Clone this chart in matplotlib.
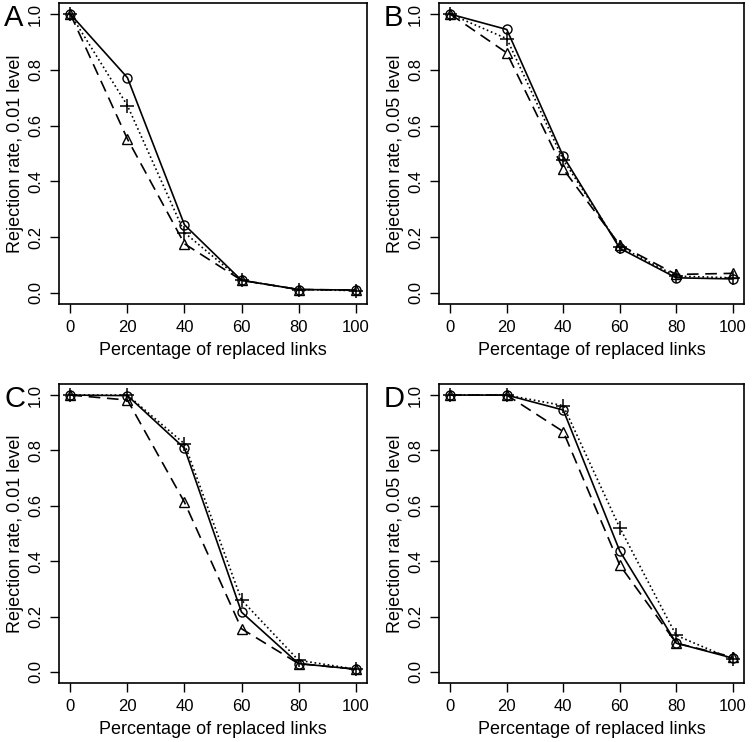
import numpy as np
import matplotlib
matplotlib.use("Agg")
import matplotlib.pyplot as plt

plt.rcParams['font.family'] = ['Liberation Sans', 'DejaVu Sans']

pct = [0, 20, 40, 60, 80, 100]

# panel A: 0.01 level
a_circle = [1.0, 0.772, 0.244, 0.045, 0.012, 0.010]
a_plus = [1.0, 0.672, 0.216, 0.045, 0.012, 0.008]
a_tri = [1.0, 0.552, 0.176, 0.045, 0.012, 0.010]
# panel B: 0.05 level
b_circle = [1.0, 0.945, 0.490, 0.160, 0.054, 0.050]
b_plus = [1.0, 0.912, 0.477, 0.166, 0.060, 0.054]
b_tri = [1.0, 0.861, 0.444, 0.172, 0.066, 0.070]
# panel C: 0.01 level
c_circle = [1.0, 0.998, 0.808, 0.216, 0.030, 0.010]
c_plus = [1.0, 1.0, 0.824, 0.260, 0.042, 0.010]
c_tri = [1.0, 0.982, 0.613, 0.156, 0.030, 0.010]
# panel D: 0.05 level
d_circle = [1.0, 1.0, 0.946, 0.437, 0.104, 0.050]
d_plus = [1.0, 1.0, 0.962, 0.521, 0.132, 0.045]
d_tri = [1.0, 1.0, 0.868, 0.386, 0.104, 0.054]

panels = [
    ("A", "Rejection rate, 0.01 level", a_circle, a_plus, a_tri),
    ("B", "Rejection rate, 0.05 level", b_circle, b_plus, b_tri),
    ("C", "Rejection rate, 0.01 level", c_circle, c_plus, c_tri),
    ("D", "Rejection rate, 0.05 level", d_circle, d_plus, d_tri),
]

W, H = 752, 742
fig = plt.figure(figsize=(W / 100, H / 100), dpi=100)

# axes boxes in pixels: left, top, right, bottom
boxes = [(59, 3, 367, 304), (439, 3, 744, 304),
         (59, 384, 367, 683), (439, 384, 744, 683)]

for (letter, ylab, yc, yp, yt), (l, t, r, b) in zip(panels, boxes):
    ax = fig.add_axes([l / W, 1 - b / H, (r - l) / W, (b - t) / H])
    ax.plot(pct, yc, '-', color='black', lw=1.2, marker='o', ms=6.5,
            mfc='none', mec='black', mew=1.0)
    ax.plot(pct, yp, ':', color='black', lw=1.2, marker='+', ms=10,
            mew=1.1)
    ax.plot(pct, yt, '--', color='black', lw=1.2, marker='^', ms=7.5,
            mfc='none', mec='black', mew=1.0, dashes=(7, 4))
    ax.set_xlim(-4, 104)
    ax.set_ylim(-0.04, 1.04)
    ax.set_xticks(pct)
    ax.set_yticks([0.0, 0.2, 0.4, 0.6, 0.8, 1.0])
    ax.set_yticklabels(["0.0", "0.2", "0.4", "0.6", "0.8", "1.0"],
                       rotation=90, va='center')
    ax.tick_params(direction='out', length=6.5, width=1, labelsize=12, pad=5)
    for s in ax.spines.values():
        s.set_linewidth(1.2)
    ax.set_xlabel("Percentage of replaced links", fontsize=13, labelpad=5)
    ax.set_ylabel(ylab, fontsize=13, labelpad=3)
    fig.text((l - 55) / W, 1 - (t + 1) / H, letter, fontsize=21,
             ha='left', va='top')

fig.savefig("out.png", dpi=100)
